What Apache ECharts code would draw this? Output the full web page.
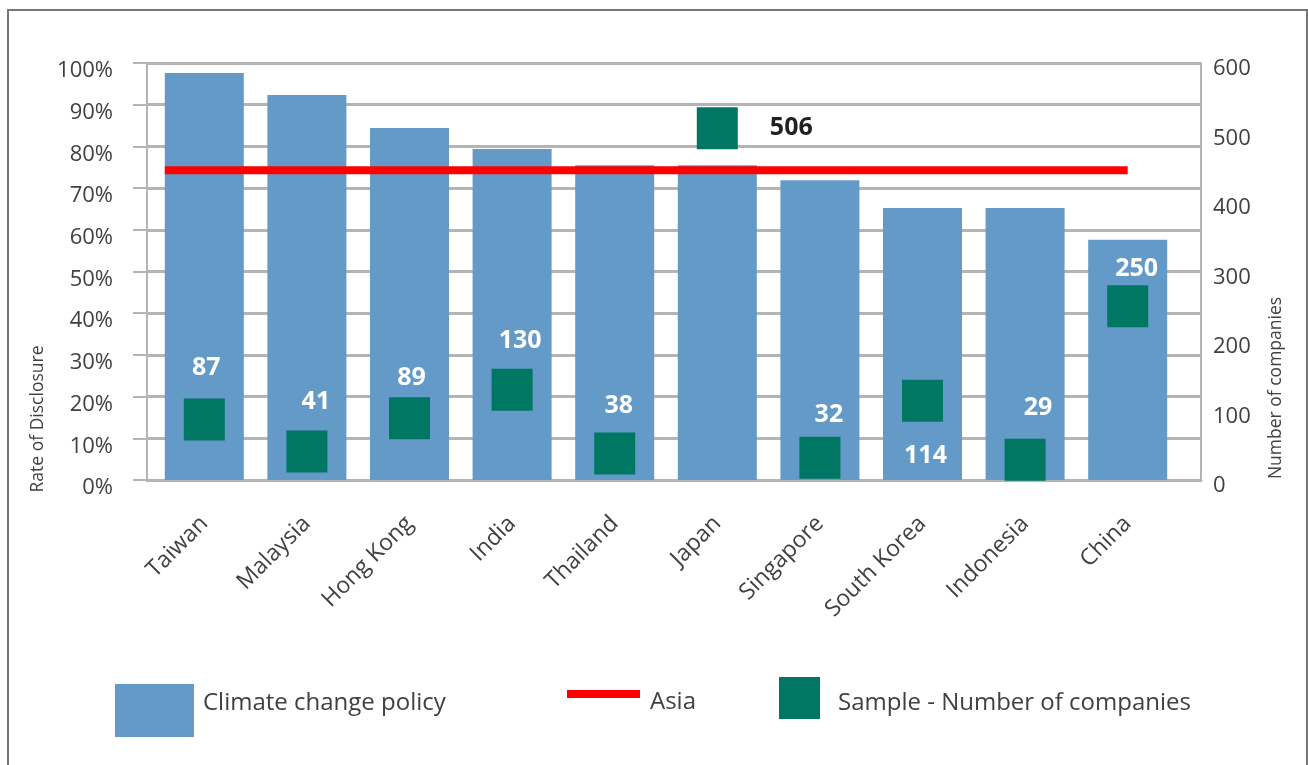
<!DOCTYPE html>
<html>
<head>
<meta charset="utf-8">
<title>Climate change policy disclosure</title>
<script src="https://cdn.jsdelivr.net/npm/echarts@6/dist/echarts.min.js"></script>
<style>
	html, body {margin: 0; padding: 0; background: #fff;}
	#chart {width: 1308px; height: 765px;}
	#frame {position: absolute; left: 7px; top: 9px; width: 1297px; height: 800px; border: 2px solid #767676; pointer-events: none;}
</style>
</head>
<body>
<div id="chart"></div>
<div id="frame"></div>
<script>
var categories = ['Taiwan', 'Malaysia', 'Hong Kong', 'India', 'Thailand', 'Japan', 'Singapore', 'South Korea', 'Indonesia', 'China'];
var policyRate = [97.6, 92.3, 84.4, 79.4, 75.5, 75.5, 71.9, 65.2, 65.2, 57.6];
var sampleSize = [87, 41, 89, 130, 38, 506, 32, 114, 29, 250];
var asiaRate = 74.3;
// the Asia line runs from the left edge of the first bar to the last category
var asiaFrom = -0.385;
var asiaTo = categories.length - 1;

var rateTicks = [0, 10, 20, 30, 40, 50, 60, 70, 80, 90, 100];
var companyTicks = [0, 100, 200, 300, 400, 500, 600];

// where each count label sits relative to its square
var labelOffsets = [[2, -52], [9, -50], [2, -40], [8, -49], [4, -48], [74, 0], [9, -43], [3, 55], [13, -52], [9, -37]];

var font = 'Open Sans';
var grey = '#404040';
var gridGrey = '#b4b4b4';

var myChart = echarts.init(document.getElementById('chart'));

var sampleData = sampleSize.map(function (v, i) {
	var dark = categories[i] === 'Japan';
	return {
		value: v,
		label: {
			show: true,
			position: 'inside',
			offset: labelOffsets[i],
			color: dark ? '#231f20' : '#ffffff',
			fontSize: 25,
			fontWeight: 'bold',
			fontFamily: font
		}
	};
});

var option = {
	animation: false,
	grid: [
		{left: 153, right: 129, top: 63, bottom: 285},
		{left: 147, right: 107, top: 63, bottom: 285}
	],
	graphic: [
		{type: 'text', x: 38, y: 419, rotation: Math.PI / 2,
			style: {text: 'Rate of Disclosure', font: '17.5px "Open Sans"', fill: grey, textAlign: 'center', textVerticalAlign: 'middle'}},
		{type: 'text', x: 1276, y: 388, rotation: Math.PI / 2,
			style: {text: 'Number of companies', font: '17.5px "Open Sans"', fill: grey, textAlign: 'center', textVerticalAlign: 'middle'}}
	],
	legend: [
		{data: ['Climate change policy'], left: 115, top: 684, padding: 0, icon: 'rect', itemWidth: 79, itemHeight: 53,
			formatter: '{t|{name}}',
			textStyle: {fontSize: 24, color: grey, fontFamily: font, padding: [0, 0, 0, 4],
				rich: {t: {fontSize: 24, color: grey, fontFamily: font, lineHeight: 38, verticalAlign: 'top'}}}},
		{data: ['Asia'], left: 567, top: 690, padding: 0, icon: 'rect', itemWidth: 73, itemHeight: 8,
			formatter: '{t|{name}}',
			textStyle: {fontSize: 24, color: grey, fontFamily: font, padding: [0, 0, 0, 5],
				rich: {t: {fontSize: 24, color: grey, fontFamily: font, lineHeight: 40, verticalAlign: 'bottom'}}}},
		{data: ['Sample - Number of companies'], left: 779, top: 677, padding: 0, icon: 'rect', itemWidth: 41, itemHeight: 42,
			formatter: '{t|{name}}',
			textStyle: {fontSize: 24, color: grey, fontFamily: font, padding: [0, 0, 0, 13],
				rich: {t: {fontSize: 24, color: grey, fontFamily: font, lineHeight: 34, verticalAlign: 'bottom'}}}}
	],
	xAxis: [
		{
			type: 'category', gridIndex: 0, data: categories,
			axisLine: {show: false}, axisTick: {show: false}, splitLine: {show: false},
			axisLabel: {rotate: 45, margin: 40, fontSize: 23, color: grey, fontFamily: font, interval: 0}
		},
		{
			type: 'value', gridIndex: 0, min: -0.5, max: categories.length - 0.5, show: false,
			splitLine: {show: false}, axisTick: {show: false}, axisLine: {show: false}, axisLabel: {show: false}
		},
		{
			type: 'category', gridIndex: 1, data: categories,
			axisLine: {show: true, lineStyle: {color: gridGrey, width: 3}},
			axisTick: {show: false}, axisLabel: {show: false}, splitLine: {show: false}
		}
	],
	yAxis: [
		{
			type: 'value', gridIndex: 0, min: 0, max: 100, interval: 10, offset: 6,
			axisLine: {show: true, onZero: false, lineStyle: {color: gridGrey, width: 2}},
			axisTick: {show: true, length: 14, lineStyle: {color: gridGrey, width: 2}},
			splitLine: {show: false},
			axisLabel: {
				margin: 34, fontSize: 22, color: grey, fontFamily: font, verticalAlign: 'top', lineHeight: 16,
				formatter: function (v) { return rateTicks.indexOf(v) >= 0 ? v + '%' : ''; }
			}
		},
		{
			type: 'value', gridIndex: 0, position: 'right', min: 0, max: 600, interval: 100, offset: 22,
			axisLine: {show: true, onZero: false, lineStyle: {color: gridGrey, width: 2}},
			axisTick: {show: false},
			splitLine: {show: false},
			axisLabel: {
				margin: 12, fontSize: 22, color: grey, fontFamily: font, verticalAlign: 'top', lineHeight: 12,
				formatter: function (v) { return companyTicks.indexOf(v) >= 0 ? String(v) : ''; }
			}
		},
		{
			type: 'value', gridIndex: 1, min: 0, max: 100, interval: 10,
			axisLine: {show: false}, axisTick: {show: false}, axisLabel: {show: false},
			splitLine: {show: true, lineStyle: {color: gridGrey, width: 3}}
		}
	],
	series: [
		{
			name: 'Climate change policy',
			type: 'bar',
			xAxisIndex: 0, yAxisIndex: 0,
			barWidth: '77%',
			itemStyle: {color: '#639ac7'},
			data: policyRate
		},
		{
			name: 'Sample - Number of companies',
			type: 'scatter',
			xAxisIndex: 0, yAxisIndex: 1,
			symbol: 'rect',
			symbolSize: [41, 42],
			itemStyle: {color: '#007763', opacity: 1},
			data: sampleData,
			z: 3
		},
		{
			name: 'Asia',
			type: 'line',
			xAxisIndex: 1, yAxisIndex: 0,
			symbol: 'none',
			lineStyle: {color: '#ff0000', width: 8},
			itemStyle: {color: '#ff0000'},
			data: [[asiaFrom, asiaRate], [asiaTo, asiaRate]],
			z: 4
		}
	]
};

myChart.setOption(option);
</script>
</body>
</html>
